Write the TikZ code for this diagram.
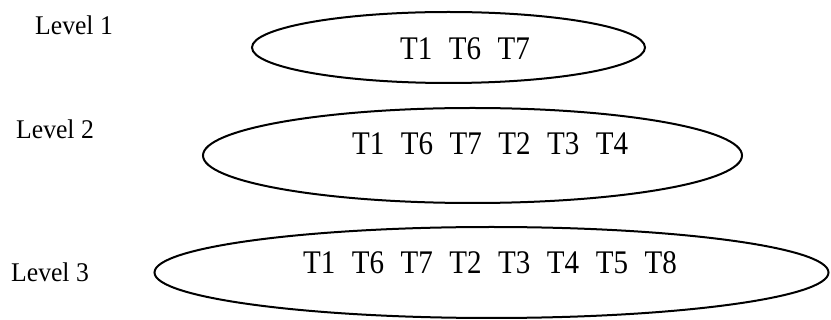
\documentclass[tikz,border=0pt]{standalone}
\usepackage{fontspec}
\setmainfont{Liberation Serif}
\newfontfamily\tkfont[FakeStretch=0.88]{Liberation Serif}
\newfontfamily\lvfont[FakeStretch=0.95]{Liberation Serif}
\usetikzlibrary{shapes.geometric}
\newcommand{\tg}{\hspace{16.5pt}}
\begin{document}
\begin{tikzpicture}[x=1pt,y=-1pt,
  lvl/.style={anchor=base west,inner sep=0pt,font=\lvfont\fontsize{27}{30}\selectfont},
  tks/.style={anchor=base west,inner sep=0pt,font=\tkfont\fontsize{33}{36}\selectfont},
  ring/.style={ellipse,draw,line width=2pt,inner sep=0pt}]
\useasboundingbox (0,0) rectangle (831,320);
\node[ring,minimum width=393pt,minimum height=71pt] (e1) at (448.5,47.5) {};
\node[ring,minimum width=539pt,minimum height=95pt] (e2) at (472.5,155.5) {};
\node[ring,minimum width=674pt,minimum height=91pt] (e3) at (491.5,272.5) {};
\node[lvl] (l1) at (35,35) {Level 1};
\node[lvl] (l2) at (16,139) {Level 2};
\node[lvl] (l3) at (11,282) {Level 3};
\node[tks] (t1) at (400,60) {T1\tg T6\tg T7};
\node[tks] (t2) at (352,155) {T1\tg T6\tg T7\tg T2\tg T3\tg T4};
\node[tks] (t3) at (303,274) {T1\tg T6\tg T7\tg T2\tg T3\tg T4\tg T5\tg T8};
\end{tikzpicture}
\end{document}
